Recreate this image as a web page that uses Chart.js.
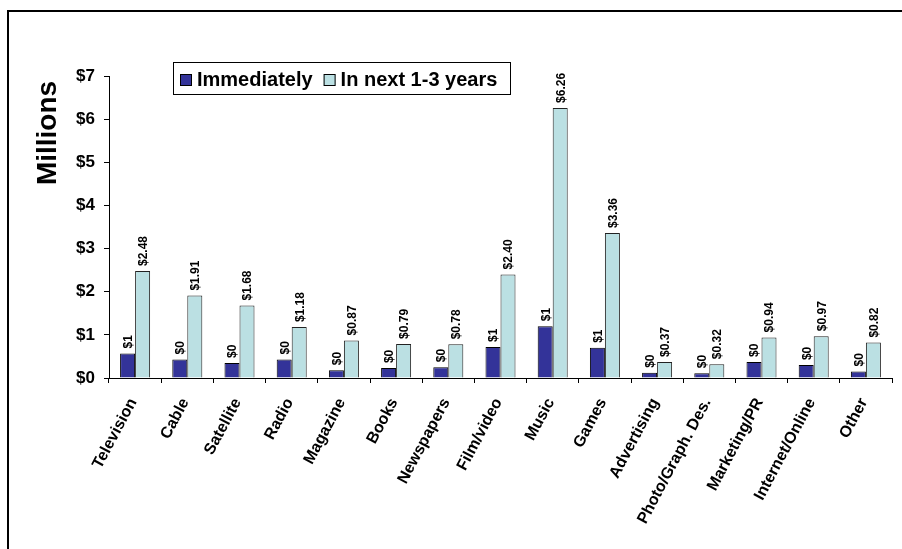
<!DOCTYPE html>
<html>
<head>
<meta charset="utf-8">
<script src="https://cdn.jsdelivr.net/npm/chart.js@4"></script>
<style>
  html, body { margin: 0; padding: 0; background: #fff; }
  #wrap { width: 902px; height: 549px; position: relative; }
</style>
</head>
<body>
<div id="wrap"><canvas id="chart" width="902" height="549"></canvas></div>
<script>
// chart data (values in $ millions)
const categories = ['Television', 'Cable', 'Satellite', 'Radio', 'Magazine', 'Books', 'Newspapers',
  'Film/video', 'Music', 'Games', 'Advertising', 'Photo/Graph. Des.', 'Marketing/PR', 'Internet/Online', 'Other'];
const immediately = [0.57, 0.43, 0.35, 0.43, 0.18, 0.23, 0.25, 0.72, 1.20, 0.70, 0.12, 0.11, 0.37, 0.30, 0.15];
const nextYears = [2.48, 1.91, 1.68, 1.18, 0.87, 0.79, 0.78, 2.40, 6.26, 3.36, 0.37, 0.32, 0.94, 0.97, 0.82];
const seriesNames = ['Immediately', 'In next 1-3 years'];
const yTicks = [0, 1, 2, 3, 4, 5, 6, 7];

const FONT = '"Liberation Sans", Arial, sans-serif';
const NAVY = '#333399';
const PALE = '#BBE0E3';

// outer frame around the whole chart
const framePlugin = {
  id: 'frame',
  beforeDraw(chart) {
    const ctx = chart.ctx;
    ctx.save();
    ctx.strokeStyle = '#000';
    ctx.lineWidth = 2;
    ctx.strokeRect(8, 11, 1000, 1000);
    ctx.restore();
  }
};

// vertical value labels above each bar
const valueLabels = {
  id: 'valueLabels',
  afterDatasetsDraw(chart) {
    const ctx = chart.ctx;
    ctx.save();
    ctx.font = 'bold 12px ' + FONT;
    ctx.fillStyle = '#000';
    ctx.textAlign = 'left';
    ctx.textBaseline = 'middle';
    chart.data.datasets.forEach((ds, di) => {
      chart.getDatasetMeta(di).data.forEach((bar, i) => {
        const v = ds.data[i];
        const txt = di === 0 ? '$' + Math.round(v) : '$' + v.toFixed(2);
        ctx.save();
        ctx.translate(bar.x + 1, bar.y - 5);
        ctx.rotate(-Math.PI / 2);
        ctx.fillText(txt, 0, 0);
        ctx.restore();
      });
    });
    ctx.restore();
  }
};

// axis title and boxed legend
const extras = {
  id: 'extras',
  afterDraw(chart) {
    const ctx = chart.ctx;
    ctx.save();
    // "Millions"
    ctx.font = 'bold 28px ' + FONT;
    ctx.fillStyle = '#000';
    ctx.textAlign = 'center';
    ctx.textBaseline = 'middle';
    ctx.translate(48, 133);
    ctx.rotate(-Math.PI / 2);
    ctx.fillText('Millions', 0, 0);
    ctx.restore();

    // legend
    ctx.save();
    ctx.fillStyle = '#fff';
    ctx.fillRect(173, 62, 337, 32);
    ctx.strokeStyle = '#000';
    ctx.lineWidth = 1;
    ctx.strokeRect(173.5, 62.5, 337, 32);
    ctx.font = 'bold 20px ' + FONT;
    ctx.textAlign = 'left';
    ctx.textBaseline = 'middle';
    let x = 180;
    chart.data.datasets.forEach((ds, i) => {
      ctx.fillStyle = ds.backgroundColor;
      ctx.fillRect(x, 74, 12, 12);
      ctx.strokeStyle = '#000';
      ctx.strokeRect(x + 0.5, 74.5, 11, 11);
      ctx.fillStyle = '#000';
      ctx.fillText(ds.label, x + 17, 80);
      x += 17 + ctx.measureText(ds.label).width + 11;
    });
    ctx.restore();
  }
};

new Chart(document.getElementById('chart'), {
  type: 'bar',
  data: {
    labels: categories,
    datasets: [
      { label: seriesNames[0], data: immediately, backgroundColor: NAVY, borderColor: '#000', borderWidth: 1 },
      { label: seriesNames[1], data: nextYears, backgroundColor: PALE, borderColor: '#222', borderWidth: 1 }
    ]
  },
  options: {
    responsive: false,
    animation: false,
    layout: { padding: { left: 0, top: 76, right: 10, bottom: 0 } },
    datasets: { bar: { categoryPercentage: 0.575, barPercentage: 1 } },
    plugins: { legend: { display: false }, tooltip: { enabled: false } },
    scales: {
      x: {
        grid: { offset: true, drawOnChartArea: false, drawTicks: true, tickLength: 5, color: '#000' },
        border: { color: '#000', width: 1 },
        ticks: {
          color: '#000', font: { family: FONT, size: 16, weight: 'bold' },
          minRotation: 62, maxRotation: 62, padding: 12, labelOffset: -2, autoSkip: false
        },
        afterFit(scale) { scale.height = 171; }
      },
      y: {
        min: yTicks[0], max: yTicks[yTicks.length - 1],
        afterBuildTicks(scale) { scale.ticks = yTicks.map(v => ({ value: v })); },
        grid: { drawOnChartArea: false, drawTicks: true, tickLength: 5, color: '#000' },
        border: { color: '#000', width: 1 },
        ticks: {
          color: '#000', font: { family: FONT, size: 17, weight: 'bold' }, padding: 9,
          callback: v => '$' + v
        },
        afterFit(scale) { scale.width = 109; }
      }
    }
  },
  plugins: [framePlugin, valueLabels, extras]
});
</script>
</body>
</html>
